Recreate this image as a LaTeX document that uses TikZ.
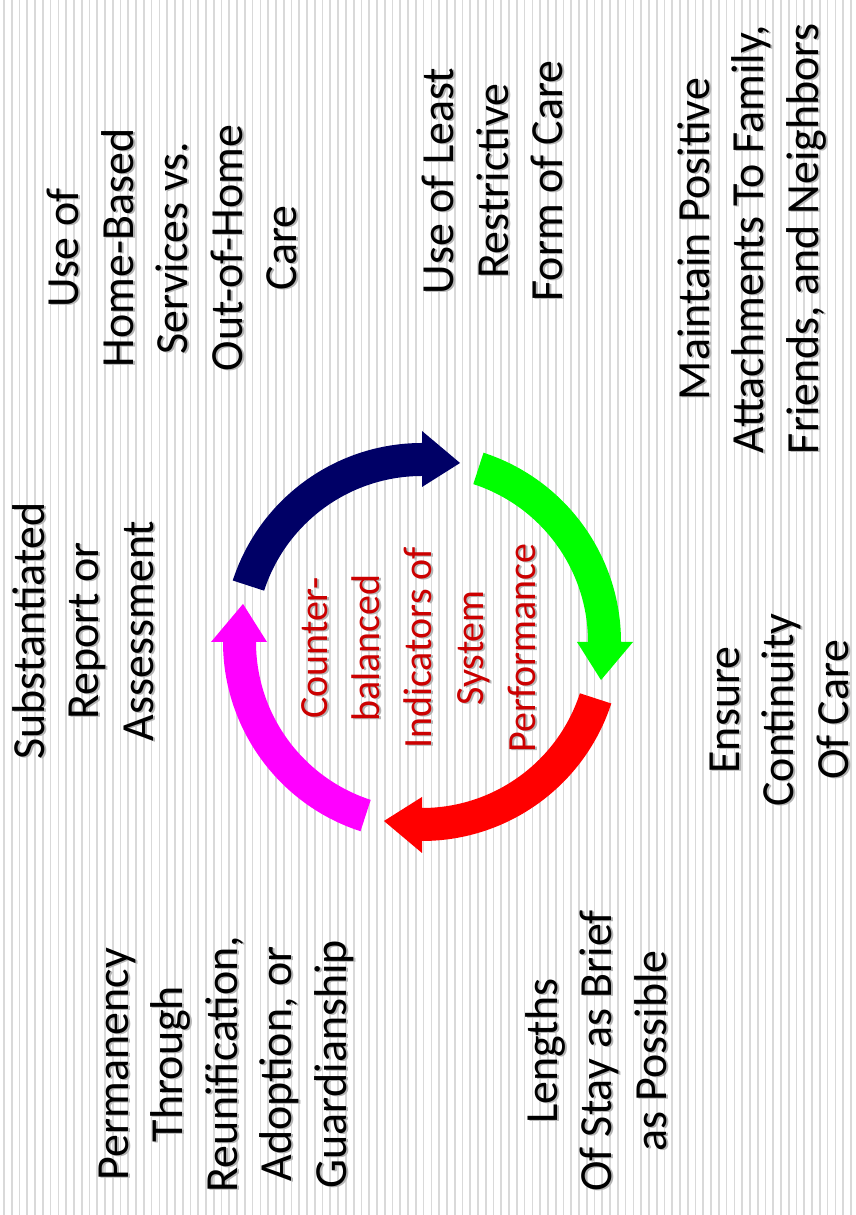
\documentclass[tikz,border=0pt]{standalone}
\usepackage{fontspec}
\setmainfont{Carlito}
\definecolor{navyarrow}{HTML}{000066}
\definecolor{greenarrow}{HTML}{00FF00}
\definecolor{redarrow}{HTML}{FF0000}
\definecolor{magentaarrow}{HTML}{FF00FF}
\definecolor{redtext}{HTML}{CC0000}
\definecolor{stripegray}{HTML}{D9D9D9}
\definecolor{shadowgray}{HTML}{B4B4B4}
\tikzset{
  stripe/.style={draw=stripegray, line width=1.7pt},
  lbl/.style={rotate=90, align=center, inner sep=0pt, font=\fontsize{46}{54.5}\selectfont, text=black},
  lblshadow/.style={lbl, text=shadowgray},
  ctr/.style={rotate=90, align=center, inner sep=0pt, font=\fontsize{40}{52}\selectfont, text=redtext},
  ctrshadow/.style={ctr, text=shadowgray},
}
\begin{document}
\begin{tikzpicture}[x=1pt,y=1pt]
\useasboundingbox (0,0) rectangle (856,1215);
\fill[white] (0,0) rectangle (856,1215);
\foreach \i in {0,...,110} {
  \draw[stripe] ({4+7.77*\i},0) -- ({4+7.77*\i},1215);
}
% ring of arrows
\begin{scope}[shift={(422,573)}]
  \foreach \s/\col in {162/navyarrow, 72/greenarrow, -18/redarrow, -108/magentaarrow} {
    \pgfmathsetmacro{\b}{\s-72}
    \pgfmathsetmacro{\t}{\s-84}
    \fill[\col] (\s:199) arc[start angle=\s, end angle=\b, radius=199]
      -- (\b:211) -- (\t:183) -- (\b:155) -- (\b:166)
      arc[start angle=\b, end angle=\s, radius=166] -- cycle;
  }
\end{scope}
% centre text
\node[ctrshadow] (centreS) at (421,566) {Counter-\\balanced\\Indicators of\\System\\Performance};
\node[ctr] (centre) at (419,567) {Counter-\\balanced\\Indicators of\\System\\Performance};
% outer labels (shadow then text)
\node[lblshadow] (substS) at (85,583) {Substantiated\\Report or\\Assessment};
\node[lbl] (subst) at (83,584) {Substantiated\\Report or\\Assessment};
\node[lblshadow] (homeS) at (174,966) {Use of\\Home-Based\\Services vs.\\Out-of-Home\\Care};
\node[lbl] (home) at (172,967) {Use of\\Home-Based\\Services vs.\\Out-of-Home\\Care};
\node[lblshadow] (leastS) at (494.5,1033) {Use of Least\\Restrictive\\Form of Care};
\node[lbl] (least) at (492.5,1034) {Use of Least\\Restrictive\\Form of Care};
\node[lblshadow] (maintS) at (754,975) {Maintain Positive\\Attachments To Family,\\Friends, and Neighbors};
\node[lbl] (maint) at (752,976) {Maintain Positive\\Attachments To Family,\\Friends, and Neighbors};
\node[lblshadow] (ensureS) at (781,504) {Ensure\\Continuity\\Of Care};
\node[lbl] (ensure) at (779,505) {Ensure\\Continuity\\Of Care};
\node[lblshadow] (permS) at (228,150) {Permanency\\Through\\Reunification,\\Adoption, or\\Guardianship};
\node[lbl] (perm) at (226,151) {Permanency\\Through\\Reunification,\\Adoption, or\\Guardianship};
\node[lblshadow] (lengthS) at (598,163) {Lengths\\Of Stay as Brief\\as Possible};
\node[lbl] (length) at (596,164) {Lengths\\Of Stay as Brief\\as Possible};
\end{tikzpicture}
\end{document}
